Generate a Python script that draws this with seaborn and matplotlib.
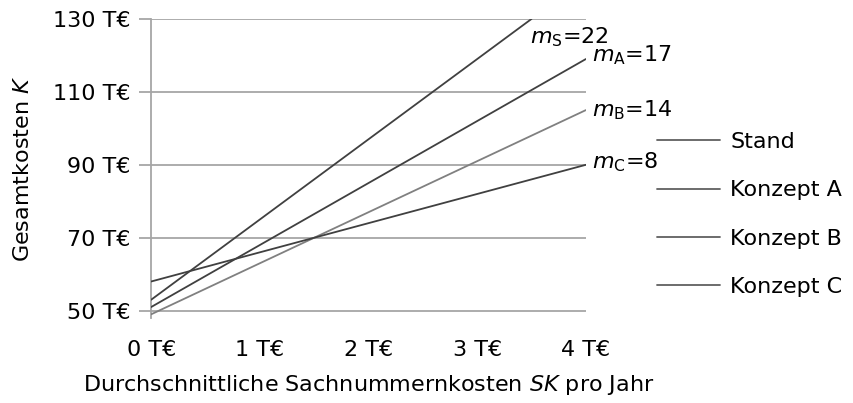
import matplotlib
matplotlib.use("Agg")
import matplotlib.pyplot as plt
import seaborn as sns
import pandas as pd
from matplotlib.lines import Line2D

# Data
series = ["Stand", "Konzept A", "Konzept B", "Konzept C"]
x_start = [0, 0, 0, 0]
y_start = [53, 51, 49, 58]
x_end = [3.5, 4, 4, 4]
y_end = [130, 119, 105, 90]
slope_labels = ["S", "A", "B", "C"]
slope_values = [22, 17, 14, 8]
x_ticks = [0, 1, 2, 3, 4]
y_ticks = [50, 70, 90, 110, 130]

colors = {"Stand": "#404040", "Konzept A": "#404040", "Konzept B": "#808080", "Konzept C": "#404040"}

rows = []
for s, x0, y0, x1, y1 in zip(series, x_start, y_start, x_end, y_end):
    rows.append({"series": s, "x": x0, "y": y0})
    rows.append({"series": s, "x": x1, "y": y1})
df = pd.DataFrame(rows)

sns.set_theme(style="white")
plt.rcParams["font.family"] = ["DejaVu Sans"]
plt.rcParams["mathtext.fontset"] = "dejavusans"
plt.rcParams["text.color"] = "black"
plt.rcParams["axes.labelcolor"] = "black"
plt.rcParams["xtick.color"] = "black"
plt.rcParams["ytick.color"] = "black"
FS = 16

fig = plt.figure(figsize=(8.54, 4.03), dpi=100)
ax = fig.add_axes([0.177, 0.211, 0.509, 0.742])

for y in y_ticks:
    ax.axhline(y, color="#a6a6a6", lw=1.3, zorder=1)

sns.lineplot(data=df, x="x", y="y", hue="series", hue_order=series, palette=colors,
             lw=1.3, ax=ax, legend=False, zorder=3)

ax.set_xlim(0, 4)
ax.set_ylim(48, 130)
ax.set_xticks(x_ticks)
ax.set_xticklabels([f"{v} T€" for v in x_ticks], fontsize=FS)
ax.set_yticks(y_ticks)
ax.set_yticklabels([f"{v} T€" for v in y_ticks], fontsize=FS)
for sp in ["top", "right", "bottom"]:
    ax.spines[sp].set_visible(False)
ax.spines["left"].set_color("#a6a6a6")
ax.spines["left"].set_linewidth(1.3)
ax.tick_params(axis="y", length=9, width=1.3, color="#a6a6a6", labelcolor="black", pad=6, left=True)
ax.tick_params(axis="x", length=0, pad=16, labelcolor="black")

ax.set_xlabel(r"Durchschnittliche Sachnummernkosten $\mathit{SK}$ pro Jahr", fontsize=FS, labelpad=9)
ax.set_ylabel(r"Gesamtkosten $\mathit{K}$", fontsize=FS, labelpad=14)

label_pos = [(3.49, 125), (4.06, 120), (4.06, 105), (4.06, 90.8)]
for (lx, ly), sl, sv in zip(label_pos, slope_labels, slope_values):
    ax.text(lx, ly, rf"$m_\mathrm{{{sl}}}$=" + f"{sv}", fontsize=FS, va="center", ha="left",
            clip_on=False, color="black")

handles = [Line2D([0], [0], color="#606060", lw=1.3) for _ in series]
fig.legend(handles, series, loc="upper left", bbox_to_anchor=(0.769, 0.672), frameon=False,
           fontsize=FS, handlelength=2.85, handletextpad=0.45, labelspacing=1.27, borderpad=0,
           borderaxespad=0, labelcolor="black")

fig.savefig("out.png", dpi=100)
